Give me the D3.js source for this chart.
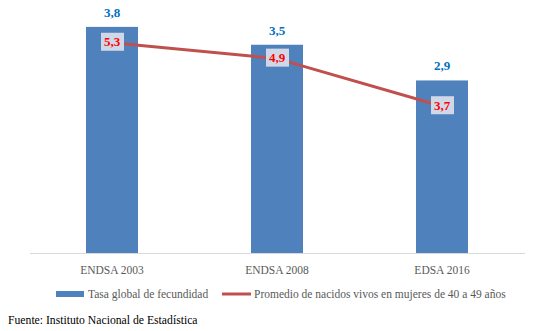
<html>
<head>
<meta charset="utf8">
<script src="https://cdn.jsdelivr.net/npm/d3@7"></script>
<style>
body { margin: 0; background: #fff; }
</style>
</head>
<body>
<div id="canvas"></div>
<script>
// datos
const categories = ["ENDSA 2003", "ENDSA 2008", "EDSA 2016"];
const tasaGlobal = [3.8, 3.5, 2.9];
const promedioNacidos = [5.3, 4.9, 3.7];
const seriesNames = ["Tasa global de fecundidad", "Promedio de nacidos vivos en mujeres de 40 a 49 años"];
const fuente = "Fuente: Instituto Nacional de Estadística";

const FONT = "'Liberation Serif', 'Times New Roman', serif";

const W = 557, H = 331;
const svg = d3.select("#canvas").append("svg")
    .attr("width", W)
    .attr("height", H)
    .style("font-family", FONT);

const fmt = v => String(v.toFixed(1)).replace(".", ",");

const x = d3.scaleBand()
    .domain(categories)
    .range([29.5, 524.5])
    .paddingInner(0.685)
    .paddingOuter(0.3425);

// eje principal (barras) y secundario (línea)
const y1 = d3.scaleLinear().domain([0, 4]).range([253, 15]);
const y2 = d3.scaleLinear().domain([0, 6]).range([253, 15]);

// barras
svg.selectAll("rect.bar")
    .data(tasaGlobal)
    .join("rect")
    .attr("class", "bar")
    .attr("x", (d, i) => x(categories[i]))
    .attr("y", d => y1(d))
    .attr("width", x.bandwidth())
    .attr("height", d => y1(0) - y1(d))
    .attr("fill", "#4F81BD");

// eje x
const xAxis = svg.append("g")
    .attr("transform", `translate(0,${y1(0)})`)
    .call(d3.axisBottom(x).tickSize(0).tickPadding(13));
xAxis.attr("font-family", null).style("font-family", FONT);
xAxis.select(".domain").attr("stroke", "#D9D9D9").attr("stroke-width", 1);
xAxis.selectAll("text")
    .attr("fill", "#595959")
    .style("font-size", "11.5px")
    .style("font-family", FONT);

// etiquetas de barras
svg.selectAll("text.barlab")
    .data(tasaGlobal)
    .join("text")
    .attr("class", "barlab")
    .attr("x", (d, i) => x(categories[i]) + x.bandwidth() / 2)
    .attr("y", d => y1(d) - 10)
    .attr("text-anchor", "middle")
    .attr("fill", "#0070C0")
    .style("font-size", "13px")
    .style("font-weight", "bold")
    .text(d => fmt(d));

// línea
const line = d3.line()
    .x((d, i) => x(categories[i]) + x.bandwidth() / 2)
    .y(d => y2(d));

svg.append("path")
    .datum(promedioNacidos)
    .attr("fill", "none")
    .attr("stroke", "#C0504D")
    .attr("stroke-width", 3)
    .attr("stroke-linecap", "round")
    .attr("d", line);

// etiquetas de la línea
const lab = svg.selectAll("g.linelab")
    .data(promedioNacidos)
    .join("g")
    .attr("class", "linelab")
    .attr("transform", (d, i) => `translate(${x(categories[i]) + x.bandwidth() / 2},${y2(d)})`);
lab.append("rect")
    .attr("x", -11)
    .attr("y", -10)
    .attr("width", 23)
    .attr("height", 18)
    .attr("fill", "#D0D8E8");
lab.append("text")
    .attr("text-anchor", "middle")
    .attr("y", -1)
    .attr("dy", "0.35em")
    .attr("fill", "#FF0000")
    .style("font-size", "13px")
    .style("font-weight", "bold")
    .text(d => fmt(d));

// leyenda
const leg = svg.append("g").attr("transform", "translate(0,294)");
leg.append("rect")
    .attr("x", 56).attr("y", -3)
    .attr("width", 28).attr("height", 6)
    .attr("fill", "#4F81BD");
leg.append("text")
    .attr("x", 88).attr("dy", "0.35em")
    .attr("fill", "#595959")
    .style("font-size", "11.5px")
    .text(seriesNames[0]);
leg.append("line")
    .attr("x1", 222).attr("x2", 251)
    .attr("stroke", "#C0504D")
    .attr("stroke-width", 3);
leg.append("text")
    .attr("x", 254).attr("dy", "0.35em")
    .attr("fill", "#595959")
    .style("font-size", "11.5px")
    .text(seriesNames[1]);

// fuente
svg.append("text")
    .attr("x", 8)
    .attr("y", 324)
    .attr("fill", "#000")
    .style("font-size", "11.7px")
    .text(fuente);
</script>
</body>
</html>
